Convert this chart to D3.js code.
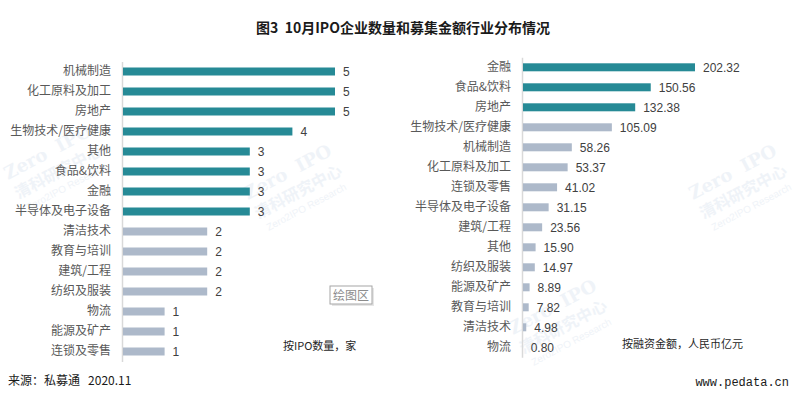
<!DOCTYPE html>
<html>
<head>
<meta charset="utf-8">
<script src="https://cdn.jsdelivr.net/npm/d3@7"></script>
<style>
  body { margin: 0; background: #fff; }
  svg { display: block; font-family: "Noto Sans CJK SC", "Noto Sans", sans-serif; }
  text { white-space: pre; }
</style>
</head>
<body>
<div id="chart"></div>
<script>
// Left panel: number of IPOs by industry
const countCategories = ["机械制造", "化工原料及加工", "房地产", "生物技术/医疗健康", "其他", "食品&饮料", "金融",
  "半导体及电子设备", "清洁技术", "教育与培训", "建筑/工程", "纺织及服装", "物流", "能源及矿产", "连锁及零售"];
const countValues = [5, 5, 5, 4, 3, 3, 3, 3, 2, 2, 2, 2, 1, 1, 1];

// Right panel: funds raised by industry (RMB 100m)
const amountCategories = ["金融", "食品&饮料", "房地产", "生物技术/医疗健康", "机械制造", "化工原料及加工", "连锁及零售",
  "半导体及电子设备", "建筑/工程", "其他", "纺织及服装", "能源及矿产", "教育与培训", "清洁技术", "物流"];
const amountValues = [202.32, 150.56, 132.38, 105.09, 58.26, 53.37, 41.02, 31.15, 23.56, 15.90, 14.97, 8.89, 7.82, 4.98, 0.80];

const width = 800, height = 405;
const teal = "#268a96", gray = "#adb9ca";

const svg = d3.select("#chart").append("svg")
  .attr("width", width)
  .attr("height", height);

// faint watermarks
const marks = [[60, 175], [300, 195], [565, 330], [745, 195]];
marks.forEach(([mx, my]) => {
  const g = svg.append("g")
    .attr("transform", `translate(${mx},${my}) rotate(-28)`)
    .attr("fill", "#d3deec")
    .attr("opacity", 0.35)
    .attr("text-anchor", "middle");
  g.append("text").attr("y", -20).attr("font-size", 18).attr("font-weight", "bold")
    .attr("font-family", "DejaVu Serif").text("Zero  IPO");
  g.append("text").attr("y", 2).attr("font-size", 16).attr("font-weight", "bold").text("清科研究中心");
  g.append("text").attr("y", 17).attr("font-size", 10).attr("font-family", "Liberation Sans").text("Zero2IPO Research");
});

// Title
svg.append("text")
  .attr("x", 403)
  .attr("y", 33)
  .attr("text-anchor", "middle")
  .attr("font-size", 14)
  .attr("font-weight", "bold")
  .attr("fill", "#1a1a1a")
  .text("图3  10月IPO企业数量和募集金额行业分布情况");

function drawPanel(cats, vals, opts) {
  const x = d3.scaleLinear()
    .domain([0, d3.max(vals)])
    .range([opts.x0, opts.x1]);

  const y = d3.scaleBand()
    .domain(cats)
    .range([opts.y0, opts.y0 + cats.length * 20])
    .paddingInner(0.6)
    .paddingOuter(0.3);

  const axis = svg.append("g")
    .attr("transform", `translate(${opts.x0},0)`)
    .call(d3.axisLeft(y).tickSize(0).tickSizeOuter(0).tickPadding(11));
  axis.select(".domain").attr("stroke", "#d9d9d9").attr("stroke-width", 1.5);
  axis.selectAll("text")
    .attr("font-family", "\"Noto Sans CJK SC\", sans-serif")
    .attr("font-size", 12)
    .attr("fill", "#595959");

  svg.selectAll(null)
    .data(vals)
    .enter()
    .append("rect")
    .attr("x", opts.x0 + 1)
    .attr("y", (d, i) => y(cats[i]))
    .attr("width", d => Math.max(0, x(d) - opts.x0 - 1))
    .attr("height", y.bandwidth())
    .attr("fill", (d, i) => i < opts.highlight ? teal : gray);

  svg.selectAll(null)
    .data(vals)
    .enter()
    .append("text")
    .attr("x", d => x(d) + 8)
    .attr("y", (d, i) => y(cats[i]) + y.bandwidth() / 2)
    .attr("dy", "0.36em")
    .attr("font-family", "\"Liberation Sans\", Arial, sans-serif")
    .attr("font-size", 12)
    .attr("fill", "#404040")
    .text(d => opts.fmt(d));

  svg.append("text")
    .attr("x", opts.noteX)
    .attr("y", opts.noteY)
    .attr("font-size", 11)
    .attr("fill", "#262626")
    .text(opts.note);
}

drawPanel(countCategories, countValues, {
  x0: 122, x1: 335, y0: 61.5, highlight: 8, fmt: d3.format("d"),
  note: "按IPO数量，家", noteX: 283, noteY: 350
});

drawPanel(amountCategories, amountValues, {
  x0: 522, x1: 695, y0: 57.3, highlight: 3, fmt: d3.format(".2f"),
  note: "按融资金额，人民币亿元", noteX: 622, noteY: 348
});

// "绘图区" tooltip box
const tip = svg.append("g").attr("transform", "translate(330,286)");
tip.append("rect").attr("x", 2).attr("y", 2).attr("width", 42).attr("height", 18).attr("fill", "#e6e6e6");
tip.append("rect").attr("width", 42).attr("height", 18).attr("fill", "#fff").attr("stroke", "#a6a6a6");
tip.append("text").attr("x", 21).attr("y", 13.5).attr("text-anchor", "middle")
  .attr("font-size", 12).attr("fill", "#8c8c8c").text("绘图区");

// Footer
svg.append("text")
  .attr("x", 8)
  .attr("y", 385)
  .attr("font-size", 12)
  .attr("fill", "#1a1a1a")
  .text("来源：私募通   2020.11");

svg.append("text")
  .attr("x", 789)
  .attr("y", 386)
  .attr("text-anchor", "end")
  .attr("font-family", "\"Liberation Mono\", monospace")
  .attr("font-size", 12)
  .attr("fill", "#1a1a1a")
  .text("www.pedata.cn");
</script>
</body>
</html>
